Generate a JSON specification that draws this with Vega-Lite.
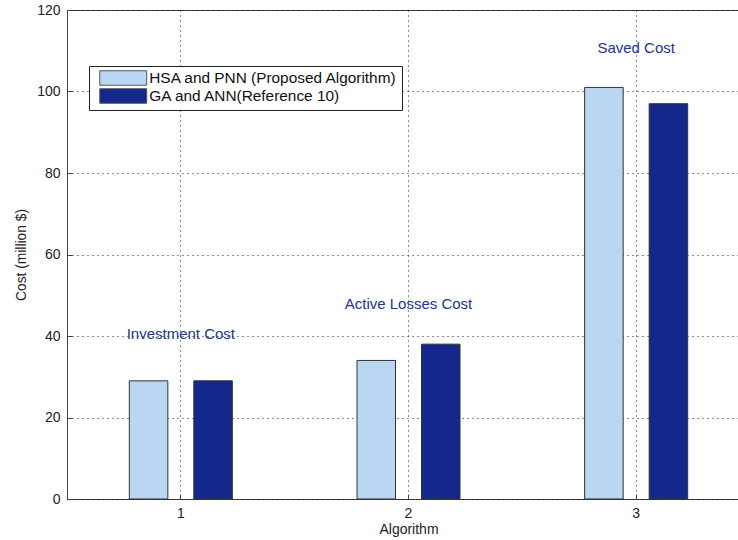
{
  "$schema": "https://vega.github.io/schema/vega-lite/v6.json",
  "autosize": {"type": "none"},
  "padding": {"left": 67, "top": 10, "right": 0, "bottom": 41},
  "width": 672,
  "height": 489,
  "background": "white",
  "config": {
    "font": "Liberation Sans",
    "view": {"stroke": "#444444", "strokeWidth": 1},
    "axis": {
      "domain": false,
      "grid": true,
      "gridColor": "#000000",
      "gridDash": [1, 4],
      "gridOpacity": 0.9,
      "tickColor": "#444444",
      "labelFont": "Liberation Sans",
      "titleFont": "Liberation Sans",
      "labelFontSize": 14,
      "titleFontSize": 14,
      "titleFontWeight": "normal",
      "labelColor": "#222222",
      "titleColor": "#222222"
    }
  },
  "datasets": {
    "bars": [
      {"algorithm": "1", "series": "HSA and PNN (Proposed Algorithm)", "cost": 29},
      {"algorithm": "1", "series": "GA and ANN(Reference 10)", "cost": 29},
      {"algorithm": "2", "series": "HSA and PNN (Proposed Algorithm)", "cost": 34},
      {"algorithm": "2", "series": "GA and ANN(Reference 10)", "cost": 38},
      {"algorithm": "3", "series": "HSA and PNN (Proposed Algorithm)", "cost": 101},
      {"algorithm": "3", "series": "GA and ANN(Reference 10)", "cost": 97}
    ],
    "labels": [
      {"algorithm": "1", "label": "Investment Cost", "cost": 40.5},
      {"algorithm": "2", "label": "Active Losses Cost", "cost": 47.9},
      {"algorithm": "3", "label": "Saved Cost", "cost": 110.7}
    ]
  },
  "layer": [
    {
      "data": {"name": "bars"},
      "mark": {"type": "bar", "stroke": "#333333", "strokeWidth": 1},
      "encoding": {
        "x": {
          "field": "algorithm",
          "type": "ordinal",
          "scale": {"domain": ["1", "2", "3"], "range": [0, 683], "paddingInner": 0, "paddingOuter": 0},
          "axis": {
            "title": "Algorithm",
            "labelAngle": 0,
            "bandPosition": 0.5,
            "tickBand": "center",
            "tickSize": -5,
            "labelPadding": 12,
            "titlePadding": 2
          }
        },
        "xOffset": {
          "field": "series",
          "type": "nominal",
          "sort": ["HSA and PNN (Proposed Algorithm)", "GA and ANN(Reference 10)"],
          "scale": {"paddingInner": 0.403, "paddingOuter": 0.966}
        },
        "y": {
          "field": "cost",
          "type": "quantitative",
          "scale": {"domain": [0, 120], "nice": false},
          "axis": {
            "title": "Cost (million $)",
            "titleFontSize": 13.8,
            "values": [0, 20, 40, 60, 80, 100, 120],
            "tickSize": -5,
            "labelPadding": 12,
            "titlePadding": 8
          }
        },
        "color": {
          "field": "series",
          "type": "nominal",
          "sort": ["HSA and PNN (Proposed Algorithm)", "GA and ANN(Reference 10)"],
          "scale": {
            "domain": ["HSA and PNN (Proposed Algorithm)", "GA and ANN(Reference 10)"],
            "range": ["#BAD6F2", "#13288A"]
          },
          "legend": {
            "title": null,
            "orient": "none",
            "legendX": 22,
            "legendY": 56,
            "direction": "vertical",
            "fillColor": "white",
            "strokeColor": "#222222",
            "padding": 4,
            "symbolType": "M-3.24,-1H3.24V1H-3.24Z",
            "symbolSize": 210,
            "symbolOffset": 22.25,
            "symbolStrokeColor": "#555555",
            "symbolStrokeWidth": 1,
            "labelFontSize": 15.4,
            "labelLimit": 0,
            "labelFont": "Liberation Sans",
            "labelColor": "#111111",
            "rowPadding": -2,
            "labelOffset": 18
          }
        }
      }
    },
    {
      "data": {"name": "labels"},
      "mark": {"type": "text", "fontSize": 15, "color": "#22358F", "baseline": "middle", "align": "center", "font": "Liberation Sans"},
      "encoding": {
        "x": {"field": "algorithm", "type": "ordinal", "bandPosition": 0.5},
        "y": {"field": "cost", "type": "quantitative"},
        "text": {"field": "label"}
      }
    }
  ]
}
